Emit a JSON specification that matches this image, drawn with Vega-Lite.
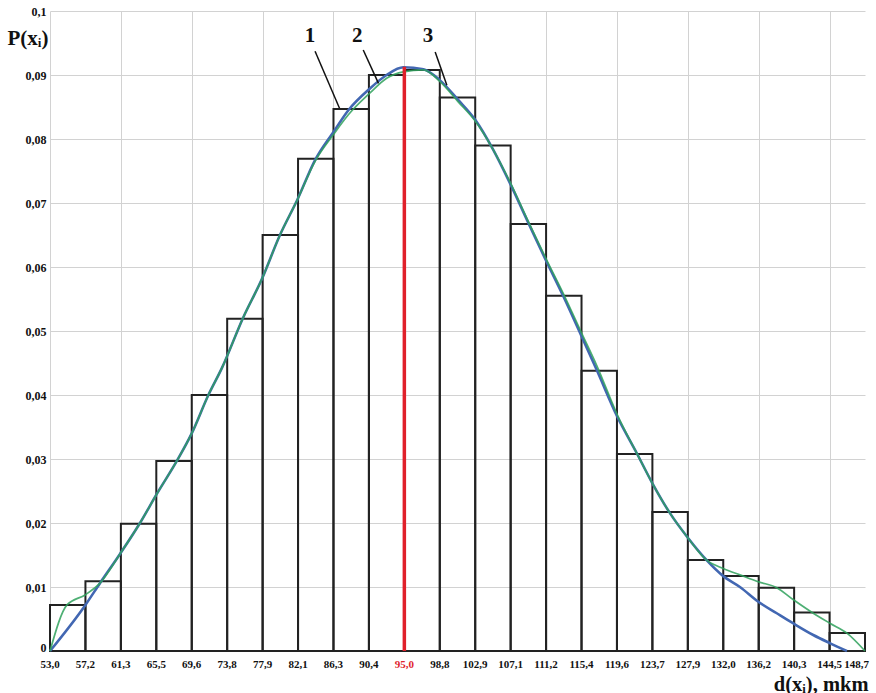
{
  "$schema": "https://vega.github.io/schema/vega-lite/v6.json",
  "width": 815,
  "height": 640,
  "autosize": "none",
  "padding": {"left": 50, "top": 11, "right": 11, "bottom": 42},
  "background": "white",
  "config": {"view": {"stroke": null}},
  "datasets": {
    "bars": [
      {"start": 0, "end": 1, "p": 0.0072},
      {"start": 1, "end": 2, "p": 0.0109},
      {"start": 2, "end": 3, "p": 0.0199},
      {"start": 3, "end": 4, "p": 0.0297},
      {"start": 4, "end": 5, "p": 0.0400},
      {"start": 5, "end": 6, "p": 0.0519},
      {"start": 6, "end": 7, "p": 0.0650},
      {"start": 7, "end": 8, "p": 0.0769},
      {"start": 8, "end": 9, "p": 0.0847},
      {"start": 9, "end": 10, "p": 0.0900},
      {"start": 10, "end": 11, "p": 0.0908},
      {"start": 11, "end": 12, "p": 0.0865},
      {"start": 12, "end": 13, "p": 0.0790},
      {"start": 13, "end": 14, "p": 0.0667},
      {"start": 14, "end": 15, "p": 0.0555},
      {"start": 15, "end": 16, "p": 0.0438},
      {"start": 16, "end": 17, "p": 0.0308},
      {"start": 17, "end": 18, "p": 0.0217},
      {"start": 18, "end": 19, "p": 0.0142},
      {"start": 19, "end": 20, "p": 0.0117},
      {"start": 20, "end": 21, "p": 0.0099},
      {"start": 21, "end": 22, "p": 0.0060},
      {"start": 22, "end": 23, "p": 0.0028}
    ],
    "xlabels": [
      {"i": 0, "lab": "53,0"}, {"i": 1, "lab": "57,2"}, {"i": 2, "lab": "61,3"}, {"i": 3, "lab": "65,5"},
      {"i": 4, "lab": "69,6"}, {"i": 5, "lab": "73,8"}, {"i": 6, "lab": "77,9"}, {"i": 7, "lab": "82,1"},
      {"i": 8, "lab": "86,3"}, {"i": 9, "lab": "90,4"}, {"i": 10, "lab": "95,0"}, {"i": 11, "lab": "98,8"},
      {"i": 12, "lab": "102,9"}, {"i": 13, "lab": "107,1"}, {"i": 14, "lab": "111,2"}, {"i": 15, "lab": "115,4"},
      {"i": 16, "lab": "119,6"}, {"i": 17, "lab": "123,7"}, {"i": 18, "lab": "127,9"}, {"i": 19, "lab": "132,0"},
      {"i": 20, "lab": "136,2"}, {"i": 21, "lab": "140,3"}, {"i": 22, "lab": "144,5"}, {"i": 23, "lab": "148,7"}
    ],
    "blue": [
      {"x": 0, "y": 0}, {"x": 1.0, "y": 0.0072}, {"x": 1.41, "y": 0.0106}, {"x": 1.98, "y": 0.0152},
      {"x": 2.54, "y": 0.0200}, {"x": 3.01, "y": 0.0245}, {"x": 3.58, "y": 0.0297}, {"x": 4.0, "y": 0.0340},
      {"x": 4.47, "y": 0.0400}, {"x": 4.85, "y": 0.0442}, {"x": 5.46, "y": 0.0522}, {"x": 5.97, "y": 0.0580},
      {"x": 6.49, "y": 0.0650}, {"x": 6.98, "y": 0.0705}, {"x": 7.48, "y": 0.0767}, {"x": 8.0, "y": 0.0811},
      {"x": 8.42, "y": 0.0845}, {"x": 9.03, "y": 0.0879}, {"x": 9.5, "y": 0.0900}, {"x": 9.97, "y": 0.0912},
      {"x": 10.54, "y": 0.0909}, {"x": 11.0, "y": 0.0892}, {"x": 11.52, "y": 0.0861}, {"x": 12.0, "y": 0.0830},
      {"x": 12.51, "y": 0.0783}, {"x": 12.98, "y": 0.0731}, {"x": 13.5, "y": 0.0669}, {"x": 13.99, "y": 0.0611},
      {"x": 14.49, "y": 0.0554}, {"x": 15.0, "y": 0.0492}, {"x": 15.43, "y": 0.0439}, {"x": 16.01, "y": 0.0366},
      {"x": 16.56, "y": 0.0309}, {"x": 17.0, "y": 0.0262}, {"x": 17.5, "y": 0.0215}, {"x": 18.0, "y": 0.0177},
      {"x": 18.53, "y": 0.0142}, {"x": 19.0, "y": 0.0117}, {"x": 19.47, "y": 0.0100}, {"x": 19.99, "y": 0.0077},
      {"x": 20.51, "y": 0.0059}, {"x": 20.98, "y": 0.0043}, {"x": 21.54, "y": 0.0025}, {"x": 22.02, "y": 0.0012},
      {"x": 22.49, "y": 0.0}
    ],
    "green": [
      {"x": 0, "y": 0}, {"x": 0.48, "y": 0.0072}, {"x": 1.0, "y": 0.0088}, {"x": 1.41, "y": 0.0106}, {"x": 1.98, "y": 0.0152},
      {"x": 2.54, "y": 0.0200}, {"x": 3.01, "y": 0.0245}, {"x": 3.58, "y": 0.0297}, {"x": 4.0, "y": 0.0340},
      {"x": 4.47, "y": 0.0400}, {"x": 4.85, "y": 0.0442}, {"x": 5.46, "y": 0.0522}, {"x": 5.97, "y": 0.0580},
      {"x": 6.49, "y": 0.0650}, {"x": 6.98, "y": 0.0705}, {"x": 7.48, "y": 0.0765}, {"x": 8.0, "y": 0.0807},
      {"x": 8.42, "y": 0.0838}, {"x": 9.03, "y": 0.0872}, {"x": 9.5, "y": 0.0895}, {"x": 9.97, "y": 0.0905},
      {"x": 10.54, "y": 0.0908}, {"x": 11.0, "y": 0.0890}, {"x": 11.52, "y": 0.0858}, {"x": 12.0, "y": 0.0828},
      {"x": 12.51, "y": 0.0783}, {"x": 12.98, "y": 0.0733}, {"x": 13.5, "y": 0.0671}, {"x": 13.99, "y": 0.0614},
      {"x": 14.49, "y": 0.0558}, {"x": 15.0, "y": 0.0497}, {"x": 15.43, "y": 0.0446}, {"x": 16.01, "y": 0.0369},
      {"x": 16.56, "y": 0.0309}, {"x": 17.0, "y": 0.0262}, {"x": 17.5, "y": 0.0215}, {"x": 18.0, "y": 0.0177},
      {"x": 18.53, "y": 0.0142}, {"x": 19.0, "y": 0.0129}, {"x": 19.47, "y": 0.0119}, {"x": 20.0, "y": 0.0108},
      {"x": 20.51, "y": 0.0099}, {"x": 20.98, "y": 0.0080}, {"x": 21.54, "y": 0.0059}, {"x": 22.02, "y": 0.0043},
      {"x": 22.49, "y": 0.0028}, {"x": 23.0, "y": 0.0}
    ],
    "mode": [{"x": 10, "y0": 0, "y1": 0.0913}],
    "leaders": [
      {"label": "1", "tx": 7.34, "ty": 0.0952, "x1": 7.48, "y1": 0.0937, "x2": 8.17, "y2": 0.0848},
      {"label": "2", "tx": 8.67, "ty": 0.0952, "x1": 8.84, "y1": 0.0939, "x2": 9.27, "y2": 0.0887},
      {"label": "3", "tx": 10.67, "ty": 0.0952, "x1": 10.87, "y1": 0.0936, "x2": 11.2, "y2": 0.0884}
    ]
  },
  "layer": [
    {
      "data": {"name": "bars"},
      "mark": {"type": "rect", "fill": "white", "fillOpacity": 0, "stroke": "#222222", "strokeWidth": 2},
      "encoding": {
        "x": {
          "field": "start", "type": "quantitative",
          "scale": {"domain": [0, 23], "nice": false, "zero": false},
          "axis": {
            "values": [0,1,2,3,4,5,6,7,8,9,10,11,12,13,14,15,16,17,18,19,20,21,22,23],
            "labels": false, "tickSize": 0, "domain": false,
            "grid": true, "gridColor": "#d2d2d2", "gridWidth": 1,
            "title": "d(xᵢ), mkm", "titleFont": "Liberation Serif", "titleFontWeight": "bold", "titleFontSize": 20.5,
            "titleColor": "#111111", "titleAnchor": "end", "titleAlign": "right", "titleX": 818, "titleY": 39, "titleBaseline": "alphabetic"
          }
        },
        "x2": {"field": "end"},
        "y": {
          "field": "p", "type": "quantitative",
          "scale": {"domain": [0, 0.1], "nice": false},
          "axis": {
            "values": [0, 0.01, 0.02, 0.03, 0.04, 0.05, 0.06, 0.07, 0.08, 0.09, 0.1],
            "labelExpr": "datum.value == 0 ? '0' : replace(format(datum.value, '.2~f'), '.', ',')",
            "labelFont": "Liberation Serif", "labelFontWeight": "bold", "labelFontSize": 12, "labelColor": "#111111",
            "labelBaseline": {"condition": {"test": "datum.value == 0", "value": "alphabetic"}, "value": "middle"},
            "labelPadding": 4, "tickSize": 0, "domain": false, "labelOverlap": false,
            "grid": true, "gridColor": "#d2d2d2", "gridWidth": 1,
            "title": "P(xᵢ)", "titleFont": "Liberation Serif", "titleFontWeight": "bold", "titleFontSize": 21,
            "titleColor": "#111111", "titleAngle": 0, "titleAlign": "left", "titleBaseline": "alphabetic", "titleX": -43, "titleY": 33
          }
        },
        "y2": {"datum": 0}
      }
    },
    {
      "data": {"name": "xlabels"},
      "mark": {"type": "text", "font": "Liberation Serif", "fontWeight": "bold", "fontSize": 11, "baseline": "top", "dy": 8,
               "align": {"expr": "datum.i == 23 ? 'right' : 'center'"}, "dx": {"expr": "datum.i == 23 ? 4 : 0"}},
      "encoding": {
        "x": {"field": "i", "type": "quantitative"},
        "y": {"datum": 0, "type": "quantitative"},
        "text": {"field": "lab"},
        "color": {"condition": {"test": "datum.i == 10", "value": "#e0262e"}, "value": "#111111"}
      }
    },
    {
      "data": {"name": "blue"},
      "mark": {"type": "line", "color": "#4267b2", "strokeWidth": 2.6, "interpolate": "monotone"},
      "encoding": {"x": {"field": "x", "type": "quantitative"}, "y": {"field": "y", "type": "quantitative"}}
    },
    {
      "data": {"name": "green"},
      "mark": {"type": "line", "color": "#2fa15c", "strokeWidth": 1.7, "opacity": 0.85, "interpolate": "monotone"},
      "encoding": {"x": {"field": "x", "type": "quantitative"}, "y": {"field": "y", "type": "quantitative"}}
    },
    {
      "data": {"name": "mode"},
      "mark": {"type": "rule", "color": "#e0202a", "strokeWidth": 3.5},
      "encoding": {"x": {"field": "x", "type": "quantitative"}, "y": {"field": "y0", "type": "quantitative"}, "y2": {"field": "y1"}}
    },
    {
      "data": {"name": "leaders"},
      "mark": {"type": "rule", "color": "#111111", "strokeWidth": 1.5},
      "encoding": {
        "x": {"field": "x1", "type": "quantitative"}, "y": {"field": "y1", "type": "quantitative"},
        "x2": {"field": "x2"}, "y2": {"field": "y2"}
      }
    },
    {
      "data": {"name": "leaders"},
      "mark": {"type": "text", "font": "Liberation Serif", "fontWeight": "bold", "fontSize": 21, "color": "#111111", "align": "center", "baseline": "alphabetic"},
      "encoding": {
        "x": {"field": "tx", "type": "quantitative"}, "y": {"field": "ty", "type": "quantitative"},
        "text": {"field": "label"}
      }
    }
  ]
}
